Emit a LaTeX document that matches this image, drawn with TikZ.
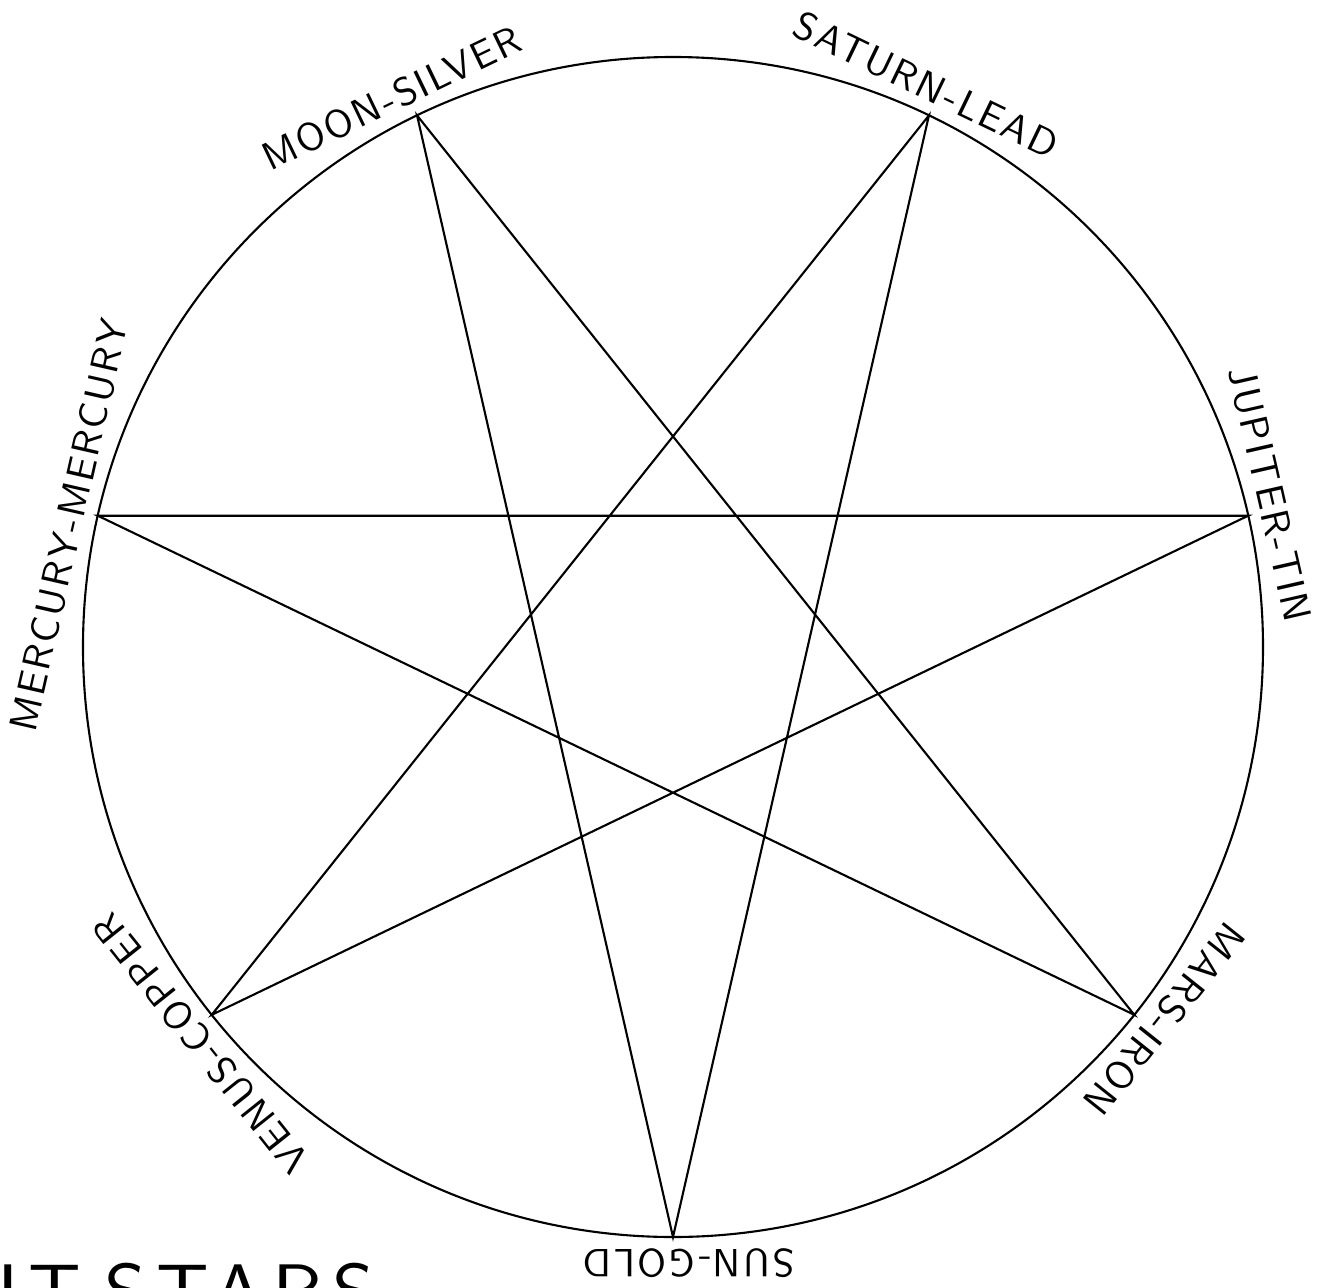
\documentclass[tikz,border=0pt]{standalone}
\usepackage{fontspec}
\usepackage{tikz}
\newfontfamily\cadfont[LetterSpace=6]{lmsans10-regular.otf}
\newfontfamily\cadtitlefont[LetterSpace=12]{lmsans10-regular.otf}
\definecolor{StarLine}{HTML}{000000}
\definecolor{StarText}{HTML}{000000}
\tikzset{
  planet/.style={text=StarText,font=\cadfont\fontsize{11.2}{13}\selectfont,inner sep=0pt,anchor=base},
  starline/.style={StarLine,line width=0.6pt,line join=miter}
}

\begin{document}
\begin{tikzpicture}[x=1cm,y=1cm]
      \clip (-6.73,-6.40) rectangle (6.61,6.47);

      % the circle and its seven points
      \draw[starline] (0,0) circle (5.9);
      \coordinate (sun) at (270:5.9);
      \coordinate (mars) at (321.43:5.9);
      \coordinate (jupiter) at (12.86:5.9);
      \coordinate (saturn) at (64.29:5.9);
      \coordinate (moon) at (115.71:5.9);
      \coordinate (mercury) at (167.14:5.9);
      \coordinate (venus) at (218.57:5.9);

      \draw[starline] (sun) -- (saturn) -- (venus) -- (jupiter) -- (mercury) -- (mars) -- (moon) -- cycle;

      % labels
      \node[planet,rotate=180] (sunlabel) at (271.5:6.03) {SUN-GOLD};
      \node[planet,rotate=231.43] (marslabel) at (322.93:6.03) {MARS-IRON};
      \node[planet,rotate=-77.14] (jupiterlabel) at (14.36:6.03) {JUPITER-TIN};
      \node[planet,rotate=-25.71] (saturnlabel) at (65.79:6.03) {SATURN-LEAD};
      \node[planet,rotate=25.71] (moonlabel) at (117.21:6.03) {MOON-SILVER};
      \node[planet,rotate=77.14] (mercurylabel) at (168.64:6.03) {MERCURY-MERCURY};
      \node[planet,rotate=128.57] (venuslabel) at (220.07:6.03) {VENUS-COPPER};

      \node[text=StarText,font=\cadtitlefont\fontsize{22}{26}\selectfont,inner sep=0pt,anchor=base west] (title) at (-6.76,-6.71) {IT\hspace{0.3em}STARS};
    \end{tikzpicture}
\end{document}
